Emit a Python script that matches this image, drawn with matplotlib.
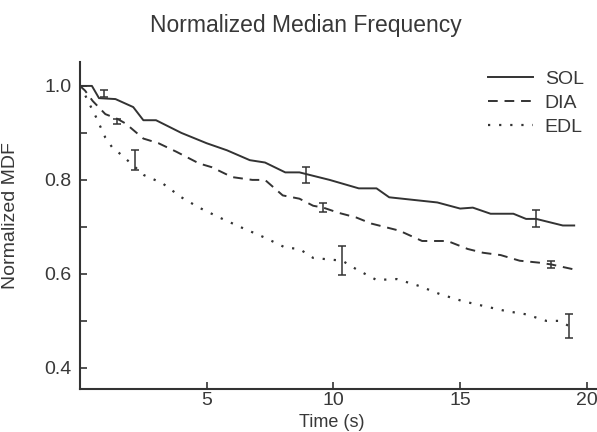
import matplotlib
matplotlib.use("Agg")
import matplotlib.pyplot as plt
from matplotlib.ticker import MultipleLocator

# ---- data ----
sol_t = [0, 0.47, 0.75, 1.4, 2.1, 2.5, 3.0, 4.0, 5.0, 5.8, 6.7, 7.3, 8.1, 8.66, 9.85,
         11.0, 11.7, 12.2, 14.1, 15.0, 15.5, 16.2, 17.1, 17.6, 18.0, 19.05, 19.5]
sol_y = [1.0, 1.0, 0.974, 0.972, 0.955, 0.927, 0.927, 0.90, 0.878, 0.863, 0.842, 0.837,
         0.816, 0.816, 0.80, 0.782, 0.782, 0.763, 0.752, 0.739, 0.741, 0.728, 0.728,
         0.717, 0.717, 0.703, 0.703]

dia_t = [0, 0.2, 0.5, 1.0, 1.47, 1.8, 2.5, 3.1, 3.8, 4.7, 5.2, 6.0, 6.8, 7.3, 8.0, 8.66,
         9.2, 9.6, 10.2, 10.9, 11.5, 12.6, 13.5, 14.5, 15.3, 15.9, 16.6, 17.35, 18.1,
         18.6, 19.45]
dia_y = [1.0, 0.99, 0.968, 0.94, 0.93, 0.92, 0.888, 0.878, 0.86, 0.835, 0.827, 0.806,
         0.80, 0.80, 0.767, 0.76, 0.745, 0.741, 0.73, 0.72, 0.707, 0.692, 0.67, 0.67,
         0.653, 0.645, 0.64, 0.628, 0.624, 0.62, 0.61]

edl_t = [0, 0.16, 0.36, 0.63, 1.0, 1.26, 1.66, 2.53, 3.25, 4.0, 4.7, 5.5, 6.4, 7.3,
         8.1, 8.66, 9.2, 10.35, 10.9, 11.7, 12.5, 13.4, 14.2, 15.1, 15.9, 16.8, 17.6,
         18.4, 18.9, 19.3]
edl_y = [1.0, 0.985, 0.963, 0.934, 0.89, 0.87, 0.852, 0.81, 0.793, 0.763, 0.741, 0.72,
         0.698, 0.677, 0.656, 0.653, 0.634, 0.628, 0.61, 0.587, 0.589, 0.574, 0.557,
         0.542, 0.532, 0.521, 0.514, 0.50, 0.50, 0.489]

sol_err_t = [0.95, 8.9, 18.0]
sol_err_y = [0.984, 0.81, 0.717]
sol_err = [0.008, 0.017, 0.018]

dia_err_t = [1.47, 9.6, 18.6]
dia_err_y = [0.925, 0.741, 0.62]
dia_err = [0.005, 0.009, 0.008]

edl_err_t = [2.17, 10.35, 19.3]
edl_err_y = [0.842, 0.628, 0.489]
edl_err = [0.021, 0.031, 0.025]

labels = ["SOL", "DIA", "EDL"]
title = "Normalized Median Frequency"
xlabel = "Time (s)"
ylabel = "Normalized MDF"
xticks = [5, 10, 15, 20]
yticks = [0.4, 0.6, 0.8, 1.0]
yticklabels = ['0.4', '0.6', '0.8', '1.0']

# ---- style ----
plt.rcParams['font.family'] = ['Liberation Sans', 'DejaVu Sans']
ink = '#333333'
txt = '#383838'

fig = plt.figure(figsize=(5.97, 4.32), dpi=100)
ax = fig.add_axes([0.134, 0.0995, 0.866, 0.756])

lw = 1.4
ax.plot(sol_t, sol_y, color=ink, lw=lw, linestyle='-', label=labels[0])
ax.plot(dia_t, dia_y, color=ink, lw=lw, linestyle=(0, (5, 3.5)), label=labels[1])
ax.plot(edl_t, edl_y, color=ink, lw=1.6, linestyle=(0, (1, 4)), label=labels[2])

for et, ey, ee in [(sol_err_t, sol_err_y, sol_err),
                   (dia_err_t, dia_err_y, dia_err),
                   (edl_err_t, edl_err_y, edl_err)]:
    ax.errorbar(et, ey, yerr=ee, fmt='none', ecolor=ink, elinewidth=1.1,
                capsize=3, capthick=1.1)

ax.set_xlim(0, 20.4)
ax.set_ylim(0.355, 1.05)
ax.set_xticks(xticks)
ax.set_yticks(yticks)
ax.set_yticklabels(yticklabels)
ax.yaxis.set_minor_locator(MultipleLocator(0.1))

for s in ['top', 'right']:
    ax.spines[s].set_visible(False)
for s in ['left', 'bottom']:
    ax.spines[s].set_color(ink)
    ax.spines[s].set_linewidth(1.5)

ax.tick_params(axis='both', which='major', direction='in', length=5, width=1.2,
               color=ink, labelsize=14, labelcolor=txt)
ax.tick_params(axis='y', which='minor', direction='in', length=5, width=1.2, color=ink)
ax.tick_params(axis='x', which='major', pad=2)
ax.tick_params(axis='y', which='major', pad=6)

ax.set_xlabel(xlabel, fontsize=13, color=txt)
ax.xaxis.set_label_coords(0.486, -0.075)
ax.set_ylabel(ylabel, fontsize=14, color=txt)
ax.yaxis.set_label_coords(-0.118, 0.53)

fig.text(0.513, 0.925, title, ha='center', va='baseline', fontsize=16.5, color=txt)

leg = ax.legend(loc='upper right', bbox_to_anchor=(0.978, 0.838),
                bbox_transform=fig.transFigure, frameon=False, fontsize=14,
                handlelength=2.3, handletextpad=0.6, labelspacing=0.33,
                borderpad=0, borderaxespad=0)
for t in leg.get_texts():
    t.set_color(txt)

fig.savefig('out.png', dpi=100)
